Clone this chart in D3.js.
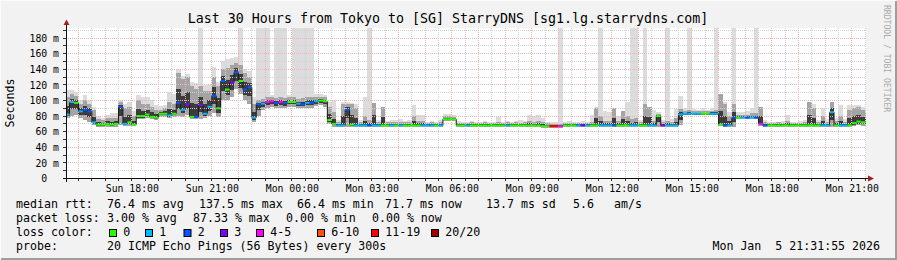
<!DOCTYPE html>
<html>
<head>
<meta charset="utf-8">
<script src="https://cdn.jsdelivr.net/npm/d3@7"></script>
<style>
body { margin: 0; background: #f2f2f2; }
svg text { font-family: "DejaVu Sans Mono", monospace; white-space: pre; }
</style>
</head>
<body>
<div id="chart"></div>
<script>

// ---- data: one sample every 10 minutes, starting Sun 15:30 ----
var sampleStart = new Date(2026, 0, 4, 15, 30);
var sampleMinutes = 10;

// median rtt (ms)
var median = [
    82, 98, 97, 86, 88, 86,   72, 69, 69, 70, 69, 70,   92, 70, 72, 69, 80, 80,
    82, 79, 78, 83, 83, 81,   83, 97, 88, 95, 79, 79,   94, 83, 92, 106, 90, 125,
    114, 123, 136, 125, 114, 117,   78, 95, 96, 98, 99, 97,   98, 97, 98, 98, 96, 95,
    97, 97, 99, 100, 99, 75,   70, 68, 68, 88, 69, 68,   68, 68, 68, 68, 68, 68,
    68, 68, 68, 68, 68, 68,   68, 68, 68, 68, 68, 68,   68, 76, 76, 76, 68, 68,
    68, 68, 68, 68, 68, 68,   68, 68, 68, 68, 68, 68,   68, 68, 68, 68, 68, 67,
    67, 67, 67, 67, 68, 68,   68, 68, 68, 68, 68, 68,   68, 68, 68, 68, 68, 68,
    68, 68, 68, 68, 68, 68,   68, 80, 68, 68, 68, 68,   82, 83, 83, 83, 83, 83,
    83, 83, 83, 69, 68, 68,   78, 78, 78, 78, 78, 78,   70, 68, 68, 68, 68, 68,
    68, 68, 68, 68, 68, 68,   68, 68, 68, 68, 85, 68,   68, 68, 68, 71, 73, 72,
    72
];

// loss bucket index (0 = no loss ... 7 = 20/20)
var lossIdx = [
    1, 1, 0, 1, 2, 2,   1, 0, 0, 0, 0, 0,   2, 1, 0, 0, 0, 0,
    0, 0, 0, 0, 0, 1,   0, 2, 1, 3, 0, 2,   3, 1, 1, 2, 0, 2,
    0, 3, 2, 0, 2, 2,   1, 2, 1, 4, 4, 2,   4, 2, 0, 0, 1, 2,
    1, 2, 1, 0, 0, 0,   0, 1, 1, 2, 0, 1,   1, 1, 2, 1, 1, 0,
    0, 1, 0, 1, 0, 0,   0, 0, 1, 1, 1, 0,   1, 0, 0, 0, 0, 0,
    1, 0, 0, 0, 0, 0,   0, 0, 0, 1, 0, 0,   0, 0, 0, 0, 0, 0,
    0, 6, 6, 4, 0, 0,   0, 1, 3, 1, 0, 0,   1, 1, 1, 2, 0, 0,
    0, 1, 1, 0, 0, 1,   1, 0, 3, 1, 1, 1,   1, 1, 1, 1, 1, 0,
    0, 1, 1, 0, 2, 1,   2, 0, 1, 2, 1, 2,   4, 2, 0, 0, 0, 0,
    0, 0, 0, 0, 0, 0,   0, 0, 1, 1, 1, 0,   1, 1, 0, 0, 0, 0,
    0
];

// lowest ping (ms)
var pingLo = [
    78, 80, 82, 78, 75, 72,   68, 66, 66, 66, 66, 66,   68, 67, 67, 67, 76, 76,
    77, 76, 75, 79, 79, 77,   79, 80, 79, 82, 76, 76,   76, 77, 80, 84, 79, 100,
    100, 105, 115, 108, 100, 95,   72, 80, 88, 90, 92, 90,   90, 90, 92, 92, 90, 90,
    91, 91, 93, 94, 92, 70,   66, 66, 66, 66, 66, 66,   66, 66, 66, 66, 66, 66,
    66, 66, 66, 66, 66, 66,   66, 66, 66, 66, 66, 66,   66, 74, 74, 74, 66, 66,
    66, 66, 66, 66, 66, 66,   66, 66, 66, 66, 66, 66,   66, 66, 66, 66, 66, 65,
    65, 65, 65, 65, 66, 66,   66, 66, 66, 66, 66, 66,   66, 66, 66, 66, 66, 66,
    66, 66, 66, 66, 66, 66,   66, 66, 66, 66, 66, 66,   68, 81, 81, 81, 81, 81,
    81, 81, 81, 67, 66, 66,   66, 76, 76, 76, 76, 76,   67, 66, 66, 66, 66, 66,
    66, 66, 66, 66, 66, 66,   66, 66, 66, 66, 66, 66,   66, 66, 66, 67, 68, 67,
    67
];

// upper edge of the dense smoke (ms)
var pingHi = [
    105, 108, 106, 95, 100, 95,   88, 76, 75, 78, 78, 78,   98, 90, 92, 80, 100, 95,
    95, 92, 88, 88, 90, 98,   95, 135, 128, 130, 118, 115,   118, 112, 112, 130, 118, 140,
    142, 145, 148, 145, 135, 130,   95, 100, 102, 104, 104, 103,   104, 103, 104, 104, 102, 103,
    104, 104, 104, 105, 104, 92,   85, 72, 95, 95, 96, 90,   72, 80, 75, 97, 72, 92,
    72, 72, 72, 72, 72, 72,   80, 74, 74, 71, 72, 71,   72, 80, 80, 79, 71, 71,
    71, 72, 71, 71, 72, 71,   71, 73, 71, 72, 71, 72,   71, 72, 74, 72, 74, 73,
    71, 70, 70, 70, 71, 71,   71, 71, 71, 71, 73, 90,   80, 74, 74, 90, 74, 86,
    80, 76, 78, 72, 96, 92,   74, 83, 72, 74, 72, 78,   89, 86, 88, 86, 86, 86,
    86, 87, 88, 108, 95, 80,   95, 82, 82, 82, 84, 84,   92, 72, 71, 71, 72, 71,
    74, 71, 71, 71, 72, 98,   90, 72, 80, 72, 98, 74,   80, 72, 88, 90, 92, 88,
    85
];

// highest ping (ms), above 192 runs off the top of the graph
var pingTop = [
    113, 113, 111, 100, 107, 100,   92, 80, 78, 82, 84, 84,   100, 96, 98, 86, 107, 105,
    104, 100, 94, 93, 94, 111,   108, 140, 132, 134, 124, 122,   250, 120, 120, 143, 124, 150,
    153, 155, 156, 250, 141, 138,   105, 250, 250, 250, 107, 250,   250, 250, 107, 250, 250, 250,
    250, 250, 108, 108, 107, 98,   101, 75, 98, 98, 97, 96,   75, 105, 250, 97, 75, 92,
    74, 75, 75, 76, 74, 75,   94, 81, 81, 73, 74, 73,   75, 83, 83, 82, 74, 73,
    73, 74, 73, 72, 74, 73,   72, 79, 73, 74, 73, 74,   75, 74, 81, 80, 81, 78,
    73, 72, 73, 250, 73, 74,   73, 73, 74, 73, 81, 92,   250, 87, 85, 90, 80, 87,
    98, 250, 250, 75, 250, 92,   88, 85, 75, 250, 76, 89,   106, 90, 250, 89, 88, 90,
    88, 90, 250, 108, 98, 85,   250, 85, 85, 86, 90, 250,   92, 75, 73, 73, 73, 74,
    81, 73, 73, 74, 75, 98,   96, 75, 90, 76, 98, 78,   94, 76, 94, 94, 94, 92,
    90
];

var yTicks = [0, 20, 40, 60, 80, 100, 120, 140, 160, 180];
var xTicks = [
    new Date(2026, 0, 4, 18), new Date(2026, 0, 4, 21), new Date(2026, 0, 5, 0),
    new Date(2026, 0, 5, 3), new Date(2026, 0, 5, 6), new Date(2026, 0, 5, 9),
    new Date(2026, 0, 5, 12), new Date(2026, 0, 5, 15), new Date(2026, 0, 5, 18),
    new Date(2026, 0, 5, 21)
];
var lossLabels = ["0", "1", "2", "3", "4-5", "6-10", "11-19", "20/20"];
var lossColors = ["#26ff00", "#00b8ff", "#0059ff", "#7e00ff", "#ff00ff", "#ff5500", "#ff0000", "#a10000"];

var title = "Last 30 Hours from Tokyo to [SG] StarryDNS [sg1.lg.starrydns.com]";
var rttStats = ["76.4 ms avg", "137.5 ms max", "66.4 ms min", "71.7 ms now", "13.7 ms sd", "5.6", "am/s"];
var lossStats = ["3.00 % avg", "87.33 % max", "0.00 % min", "0.00 % now"];
var probeText = "20 ICMP Echo Pings (56 Bytes) every 300s";
var stamp = "Mon Jan  5 21:31:55 2026";


// ---- layout ----
var width = 897, height = 260;
var plot = {left: 66, right: 866, top: 28, bottom: 178.5};

var svg = d3.select("#chart").append("svg")
    .attr("width", width)
    .attr("height", height);

svg.append("rect")
    .attr("width", width).attr("height", height)
    .attr("fill", "#f2f2f2");

// frame shading
svg.append("path").attr("d", "M0,259V0H896").attr("stroke", "#fcfcfc").attr("stroke-width", 2).attr("fill", "none");
svg.append("path").attr("d", "M1,259H896V1").attr("stroke", "#9e9e9e").attr("stroke-width", 2).attr("fill", "none");

var t0 = new Date(2026, 0, 4, 15, 31, 55),
    t1 = new Date(2026, 0, 5, 21, 31, 55);

var x = d3.scaleTime().domain([t0, t1]).range([plot.left, plot.right]);
var y = d3.scaleLinear().domain([0, 192.3]).range([plot.bottom, plot.top + 0.5]);

function tAt(i) { return new Date(sampleStart.getTime() + i * sampleMinutes * 60000); }
function px(v) { return Math.round(v - 0.5) + 0.5; }

svg.append("rect")
    .attr("x", plot.left).attr("y", plot.top)
    .attr("width", plot.right - plot.left).attr("height", plot.bottom - plot.top)
    .attr("fill", "#ffffff");

svg.append("clipPath").attr("id", "clip")
    .append("rect")
    .attr("x", plot.left).attr("y", plot.top)
    .attr("width", plot.right - plot.left).attr("height", plot.bottom - plot.top - 0.5);

var g = svg.append("g").attr("clip-path", "url(#clip)");

var samples = median.map(function(d, i) {
    return {
        x0: x(tAt(i)), x1: x(tAt(i + 1)),
        med: d, loss: lossIdx[i],
        lo: pingLo[i], hi: pingHi[i], top: pingTop[i]
    };
});

// smoke: outer pings, dense part, core around the median
function smoke(cls, color, lo, hi) {
    g.selectAll("rect." + cls).data(samples).enter().append("rect")
        .attr("class", cls)
        .attr("shape-rendering", "crispEdges")
        .attr("x", function(d) { return d.x0; })
        .attr("width", function(d) { return d.x1 - d.x0; })
        .attr("y", function(d) { return y(Math.min(hi(d), 260)); })
        .attr("height", function(d) { return Math.max(0, y(lo(d)) - y(Math.min(hi(d), 260))); })
        .attr("fill", color);
}
smoke("outer", "#dcdcdc", function(d) { return d.lo; }, function(d) { return d.top; });
smoke("dense", "#a4a4a4", function(d) { return d.lo; }, function(d) { return d.hi; });
smoke("core", "#3c3c3c",
    function(d) { return d.med - (d.med - d.lo) * 0.5; },
    function(d) { return d.med + (d.hi - d.med) * 0.45; });

// grid
var minorY = d3.range(10, 200, 20), majorY = d3.range(20, 200, 20);
var minorX = d3.timeMinute.every(30).range(t0, t1).filter(function(d) { return d.getMinutes() === 30; });
var majorX = d3.timeHour.every(1).range(t0, t1);

var grid = svg.append("g").attr("stroke-dasharray", "1,1").attr("shape-rendering", "crispEdges");
grid.selectAll("line.gy").data(minorY).enter().append("line")
    .attr("x1", plot.left).attr("x2", plot.right)
    .attr("y1", function(d) { return px(y(d)); }).attr("y2", function(d) { return px(y(d)); })
    .attr("stroke", "#d2d2d2");
grid.selectAll("line.gx").data(minorX).enter().append("line")
    .attr("y1", plot.top).attr("y2", plot.bottom)
    .attr("x1", function(d) { return px(x(d)); }).attr("x2", function(d) { return px(x(d)); })
    .attr("stroke", "#d2d2d2");
grid.selectAll("line.my").data(majorY).enter().append("line")
    .attr("x1", plot.left).attr("x2", plot.right)
    .attr("y1", function(d) { return px(y(d)); }).attr("y2", function(d) { return px(y(d)); })
    .attr("stroke", "#efb4b4");
grid.selectAll("line.mx").data(majorX).enter().append("line")
    .attr("y1", plot.top).attr("y2", plot.bottom)
    .attr("x1", function(d) { return px(x(d)); }).attr("x2", function(d) { return px(x(d)); })
    .attr("stroke", "#efb4b4");

// median: dark risers, coloured steps
var med = svg.append("g").attr("clip-path", "url(#clip)");
med.selectAll("line.riser").data(samples.slice(1)).enter().append("line")
    .attr("x1", function(d) { return d.x0; }).attr("x2", function(d) { return d.x0; })
    .attr("y1", function(d, i) { return y(samples[i].med); })
    .attr("y2", function(d) { return y(d.med); })
    .attr("stroke", "#1a1a1a").attr("stroke-width", 1);
med.selectAll("line.step").data(samples).enter().append("line")
    .attr("x1", function(d) { return d.x0; }).attr("x2", function(d) { return d.x1; })
    .attr("y1", function(d) { return y(d.med); }).attr("y2", function(d) { return y(d.med); })
    .attr("stroke", function(d) { return lossColors[d.loss]; })
    .attr("stroke-width", 2);

// axes
var xAxis = d3.axisBottom(x).tickValues(xTicks).tickSize(0).tickPadding(7)
    .tickFormat(d3.timeFormat("%a %H:%M"));
var xa = svg.append("g").attr("transform", "translate(0," + 178.5 + ")").call(xAxis);
xa.select(".domain").remove();
xa.selectAll("text").attr("font-family", "DejaVu Sans Mono").attr("font-size", "9.8px").attr("fill", "#000");

var yAxis = d3.axisLeft(y).tickValues(yTicks).tickSize(0).tickPadding(7)
    .tickFormat(function(d) { return d === 0 ? "0  " : d + " m"; });
var ya = svg.append("g").attr("transform", "translate(" + plot.left + ",0)").call(yAxis);
ya.select(".domain").remove();
ya.selectAll("text").attr("font-family", "DejaVu Sans Mono").attr("font-size", "9.8px").attr("fill", "#000");

// axis ticks
svg.selectAll("line.tk").data(majorX.concat(minorX)).enter().append("line")
    .attr("x1", function(d) { return px(x(d)); }).attr("x2", function(d) { return px(x(d)); })
    .attr("y1", 178).attr("y2", 181).attr("stroke", "#333").attr("shape-rendering", "crispEdges");
svg.selectAll("line.tky").data(d3.range(0, 200, 10)).enter().append("line")
    .attr("x1", 63).attr("x2", 66)
    .attr("y1", function(d) { return px(y(d)); }).attr("y2", function(d) { return px(y(d)); })
    .attr("stroke", "#333").attr("shape-rendering", "crispEdges");

svg.append("line").attr("x1", 63).attr("x2", 869).attr("y1", 178.5).attr("y2", 178.5)
    .attr("stroke", "#101010").attr("shape-rendering", "crispEdges");
svg.append("line").attr("x1", 66.5).attr("x2", 66.5).attr("y1", 182).attr("y2", 25)
    .attr("stroke", "#101010").attr("shape-rendering", "crispEdges");
svg.append("path").attr("d", "M868,175.5L874,178.5L868,181.5Z").attr("fill", "#a52020");
svg.append("path").attr("d", "M63.5,25L66.5,19.5L69.5,25Z").attr("fill", "#a52020");

// title and side texts
svg.append("text").attr("x", 448).attr("y", 23).attr("text-anchor", "middle")
    .attr("font-size", "13.3px").text(title);
svg.append("text").attr("transform", "translate(14,103) rotate(-90)").attr("text-anchor", "middle")
    .attr("font-size", "11.6px").text("Seconds");
svg.append("text").attr("transform", "translate(884,5) rotate(90)")
    .attr("font-size", "8.1px").attr("fill", "#aaaaaa").text("RRDTOOL / TOBI OETIKER");

// legend
var legend = svg.append("g").attr("font-size", "11.6px");
function row(yy, items) {
    items.forEach(function(it) {
        legend.append("text").attr("x", it[0]).attr("y", yy).text(it[1]);
    });
}
row(208, [[16, "median rtt:"], [107, rttStats[0]], [199, rttStats[1]], [297, rttStats[2]],
    [385, rttStats[3]], [486, rttStats[4]], [573, rttStats[5]], [614, rttStats[6]]]);
row(222, [[16, "packet loss:"], [107, lossStats[0]], [193, lossStats[1]], [286, lossStats[2]], [372, lossStats[3]]]);
row(236, [[16, "loss color:"]]);
row(250, [[16, "probe:"], [107, probeText]]);
legend.append("text").attr("x", 880).attr("y", 250).attr("text-anchor", "end").text(stamp);

var boxX = [109, 145, 183.5, 220, 256, 317, 371, 431];
lossLabels.forEach(function(l, i) {
    legend.append("rect").attr("x", boxX[i] + 0.5).attr("y", 229.5).attr("width", 7).attr("height", 7)
        .attr("fill", lossColors[i]).attr("stroke", "#000");
    legend.append("text").attr("x", boxX[i] + 14.3).attr("y", 236).text(l);
});

</script>
</body>
</html>
